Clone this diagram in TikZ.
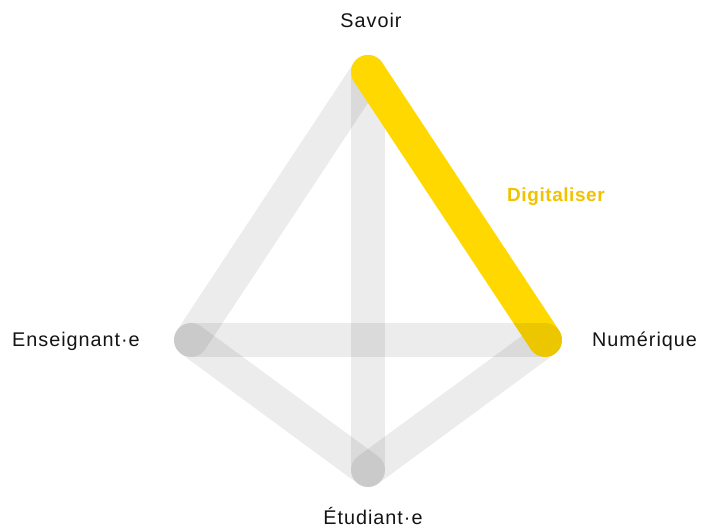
\documentclass[tikz,border=0pt]{standalone}
\usepackage{fontspec}
\setmainfont{Liberation Sans}[LetterSpace=5]
\newfontfamily\boldlab{Liberation Sans}[LetterSpace=3]
\definecolor{ylw}{HTML}{FFD800}
\definecolor{ylwtext}{HTML}{F2C200}
\begin{document}
\begin{tikzpicture}[x=1pt,y=1pt,
  edge/.style={line width=34pt, line cap=round, draw=black, draw opacity=0.075},
  hot/.style={line width=34pt, line cap=round, draw=ylw},
  lab/.style={font=\fontsize{19.8}{21}\selectfont, text=black!92, inner sep=0pt, anchor=base}]
\useasboundingbox (0,0) rectangle (701,529);
\coordinate (S) at (368,457);
\coordinate (E) at (191,189);
\coordinate (N) at (545,189);
\coordinate (U) at (368,59);
\draw[edge] (S) -- (E);
\draw[edge] (S) -- (U);
\draw[edge] (U) -- (N);
\draw[edge] (E) -- (U);
\draw[hot] (S) -- (N);
\draw[edge] (E) -- (N);
\node[lab] (tS) at (371,501) {Savoir};
\node[lab, anchor=base west] (tE) at (12,182) {Enseignant·e};
\node[lab, anchor=base west] (tN) at (592,182) {Numérique};
\node[lab] (tU) at (373,4) {Étudiant·e};
\node[inner sep=0pt, anchor=base west, text=ylwtext, font=\boldlab\bfseries\fontsize{19}{21}\selectfont] (tD) at (507,327) {Digitaliser};
\end{tikzpicture}
\end{document}
